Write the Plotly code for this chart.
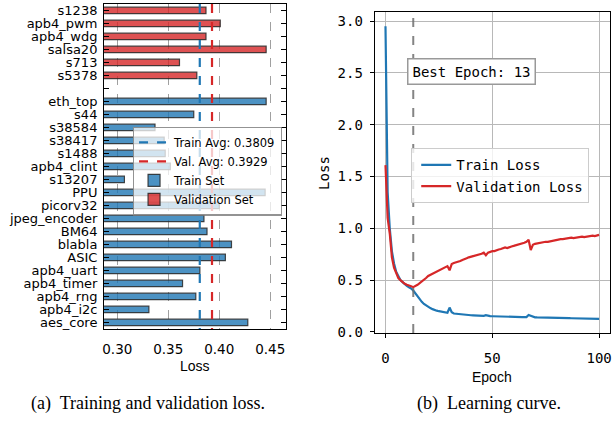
import plotly.graph_objects as go

# ---------------- data ----------------
val_names = ["s1238", "apb4_pwm", "apb4_wdg", "salsa20", "s713", "s5378"]
val_values = [0.387, 0.401, 0.387, 0.446, 0.361, 0.378]

train_names = ["eth_top", "s44", "s38584", "s38417", "s1488", "apb4_clint", "s13207",
               "PPU", "picorv32", "jpeg_encoder", "BM64", "blabla", "ASIC",
               "apb4_uart", "apb4_timer", "apb4_rng", "apb4_i2c", "aes_core"]
train_values = [0.446, 0.375, 0.337, 0.346, 0.347, 0.352, 0.307,
                0.445, 0.400, 0.385, 0.388, 0.412, 0.406,
                0.381, 0.364, 0.377, 0.331, 0.428]

train_avg = 0.3809
val_avg = 0.3929
loss_ticks = [0.30, 0.35, 0.40, 0.45]

epochs = list(range(101))
train_loss = [
    2.95, 1.35, 1.00, 0.78, 0.66, 0.58, 0.54, 0.50, 0.48, 0.46,
    0.445, 0.43, 0.42, 0.40, 0.37, 0.34, 0.31, 0.29, 0.27, 0.255,
    0.24, 0.23, 0.22, 0.21, 0.205, 0.20, 0.195, 0.19, 0.188, 0.185,
    0.235, 0.19, 0.178, 0.175, 0.172, 0.170, 0.168, 0.166, 0.164, 0.162,
    0.161, 0.160, 0.159, 0.158, 0.157, 0.156, 0.155, 0.162, 0.154, 0.152,
    0.151, 0.150, 0.149, 0.149, 0.148, 0.148, 0.147, 0.147, 0.146, 0.146,
    0.145, 0.145, 0.144, 0.144, 0.143, 0.143, 0.143, 0.163, 0.155, 0.142,
    0.141, 0.140, 0.140, 0.139, 0.139, 0.138, 0.138, 0.137, 0.137, 0.136,
    0.136, 0.135, 0.135, 0.134, 0.134, 0.133, 0.133, 0.132, 0.132, 0.131,
    0.131, 0.130, 0.130, 0.129, 0.129, 0.128, 0.128, 0.127, 0.127, 0.126, 0.125,
]
val_loss = [
    1.61, 1.10, 0.95, 0.72, 0.62, 0.56, 0.52, 0.50, 0.48, 0.465,
    0.455, 0.45, 0.44, 0.432, 0.44, 0.455, 0.47, 0.49, 0.50, 0.52,
    0.54, 0.55, 0.56, 0.57, 0.58, 0.59, 0.60, 0.61, 0.625, 0.635,
    0.595, 0.655, 0.665, 0.67, 0.68, 0.685, 0.695, 0.70, 0.71, 0.72,
    0.725, 0.73, 0.74, 0.745, 0.75, 0.755, 0.765, 0.74, 0.765, 0.775,
    0.78, 0.78, 0.79, 0.795, 0.80, 0.81, 0.815, 0.81, 0.82, 0.825,
    0.83, 0.835, 0.84, 0.845, 0.85, 0.86, 0.87, 0.89, 0.79, 0.84,
    0.85, 0.855, 0.86, 0.86, 0.865, 0.87, 0.87, 0.875, 0.88, 0.885,
    0.885, 0.89, 0.895, 0.895, 0.90, 0.90, 0.905, 0.91, 0.905, 0.91,
    0.915, 0.915, 0.92, 0.915, 0.92, 0.925, 0.925, 0.93, 0.925, 0.93, 0.937,
]
best_epoch = 13

# ---------------- layout helpers ----------------
W, H = 615, 423
def px(x):
    return x / W
def py(y):
    return 1 - y / H

val_pos = list(range(len(val_names)))
train_pos = [len(val_names) + 1 + i for i in range(len(train_names))]
all_pos = list(range(len(val_names) + 1 + len(train_names)))
all_text = val_names + [""] + train_names

BLUE = "#1f77b4"
RED = "#d62728"
SANS = "DejaVu Sans"
MONO = "DejaVu Sans Mono"

fig = go.Figure()

# Left: horizontal bars
fig.add_trace(go.Bar(
    x=train_values, y=train_pos, orientation="h", base=0, width=0.5,
    marker=dict(color="rgba(31,119,180,0.8)", line=dict(color="rgba(40,40,40,0.85)", width=1.2)),
    name="Train Set", xaxis="x", yaxis="y", legend="legend", legendrank=3,
))
fig.add_trace(go.Bar(
    x=val_values, y=val_pos, orientation="h", base=0, width=0.5,
    marker=dict(color="rgba(214,39,40,0.8)", line=dict(color="rgba(40,40,40,0.85)", width=1.2)),
    name="Validation Set", xaxis="x", yaxis="y", legend="legend", legendrank=4,
))
ylo, yhi = -0.5, len(all_pos) - 0.5
fig.add_trace(go.Scatter(
    x=[train_avg, train_avg], y=[ylo, yhi], mode="lines",
    line=dict(color=BLUE, width=2.2, dash="dash"),
    name=f"Train Avg: {train_avg:.4f}", xaxis="x", yaxis="y", legend="legend", legendrank=1,
))
fig.add_trace(go.Scatter(
    x=[val_avg, val_avg], y=[ylo, yhi], mode="lines",
    line=dict(color=RED, width=2.2, dash="dash"),
    name=f"Val. Avg: {val_avg:.4f}", xaxis="x", yaxis="y", legend="legend", legendrank=2,
))

# Right: learning curves
fig.add_trace(go.Scatter(
    x=epochs, y=train_loss, mode="lines", line=dict(color=BLUE, width=2.2),
    name="Train Loss", xaxis="x2", yaxis="y2", legend="legend2",
))
fig.add_trace(go.Scatter(
    x=epochs, y=val_loss, mode="lines", line=dict(color=RED, width=2.2),
    name="Validation Loss", xaxis="x2", yaxis="y2", legend="legend2",
))

fig.add_shape(type="line", xref="x2", yref="y2 domain", x0=best_epoch, x1=best_epoch,
              y0=0, y1=1, line=dict(color="rgba(110,110,110,0.85)", width=2, dash="dash"),
              layer="above")

fig.update_layout(
    width=W, height=H,
    margin=dict(l=0, r=0, t=0, b=0),
    paper_bgcolor="white", plot_bgcolor="white",
    barmode="overlay",
    font=dict(family=SANS, size=13, color="black"),
    xaxis=dict(
        domain=[px(102.7), px(286)], range=[0.287, 0.4656], anchor="y",
        tickvals=loss_ticks, ticktext=[f"{v:.2f}" for v in loss_ticks],
        showgrid=True, gridcolor="rgba(128,128,128,0.75)", gridwidth=1.3, griddash="dash",
        showline=True, linecolor="black", linewidth=1, mirror=True,
        ticks="", tickfont=dict(family=SANS, size=13.5), zeroline=False,
        ticklabelstandoff=8,
    ),
    yaxis=dict(
        domain=[py(334.3), py(3)], range=[yhi, ylo], anchor="x",
        tickvals=all_pos, ticktext=all_text,
        showgrid=False, showline=True, linecolor="black", linewidth=1, mirror="ticks",
        ticks="inside", ticklen=5, tickcolor="black",
        tickfont=dict(family=SANS, size=13), zeroline=False, ticklabelstandoff=3,
    ),
    xaxis2=dict(
        domain=[px(375.25), px(611.75)], range=[-5, 105], anchor="y2",
        tickvals=[0, 50, 100], showgrid=True, gridcolor="#b8b8b8", gridwidth=1.2,
        showline=True, linecolor="black", linewidth=1.2, mirror=True,
        ticks="outside", ticklen=4, tickcolor="black",
        tickfont=dict(family=MONO, size=14), zeroline=False, ticklabelstandoff=8,
    ),
    yaxis2=dict(
        domain=[py(338.3), py(11.7)], range=[-0.0095, 3.083], anchor="x2",
        tickvals=[0, 0.5, 1.0, 1.5, 2.0, 2.5, 3.0],
        ticktext=["0.0", "0.5", "1.0", "1.5", "2.0", "2.5", "3.0"],
        showgrid=True, gridcolor="#b8b8b8", gridwidth=1.2,
        showline=True, linecolor="black", linewidth=1.2, mirror=True,
        ticks="outside", ticklen=4, tickcolor="black",
        tickfont=dict(family=MONO, size=14), zeroline=False, ticklabelstandoff=4,
    ),
    legend=dict(
        x=px(131.7), y=py(128), xanchor="left", yanchor="top",
        bgcolor="rgba(255,255,255,0.75)", bordercolor="rgba(120,120,120,0.8)", borderwidth=1.2,
        font=dict(family=SANS, size=11.5), tracegroupgap=0, itemwidth=30,
        traceorder="normal",
    ),
    legend2=dict(
        x=px(411.7), y=py(150), xanchor="left", yanchor="top",
        bgcolor="rgba(255,255,255,0.8)", bordercolor="#cccccc", borderwidth=1.2,
        font=dict(family=MONO, size=14), tracegroupgap=0, itemwidth=30,
        indentation=4,
    ),
    showlegend=True,
)

annotations = [
    dict(text="Best Epoch: 13", xref="paper", yref="paper", x=px(408), y=py(72),
         xanchor="left", yanchor="middle", showarrow=False,
         font=dict(family=MONO, size=14), bgcolor="white",
         bordercolor="#999999", borderwidth=1.5, borderpad=4),
    dict(text="Loss", xref="paper", yref="paper", x=px(194.3), y=py(372),
         xanchor="center", yanchor="middle", showarrow=False,
         font=dict(family="Liberation Sans", size=14)),
    dict(text="Epoch", xref="paper", yref="paper", x=px(493), y=py(383),
         xanchor="center", yanchor="middle", showarrow=False,
         font=dict(family="Liberation Sans", size=14)),
    dict(text="Loss", xref="paper", yref="paper", x=px(323.3), y=py(175),
         xanchor="center", yanchor="middle", showarrow=False, textangle=-90,
         font=dict(family=MONO, size=14)),
    dict(text="(a)  Training and validation loss.", xref="paper", yref="paper",
         x=px(147), y=py(410), xanchor="center", yanchor="middle", showarrow=False,
         font=dict(family="Liberation Serif", size=18)),
    dict(text="(b)  Learning curve.", xref="paper", yref="paper",
         x=px(490), y=py(410), xanchor="center", yanchor="middle", showarrow=False,
         font=dict(family="Liberation Serif", size=18)),
]
fig.update_layout(annotations=annotations)

fig.write_html("out.html")
